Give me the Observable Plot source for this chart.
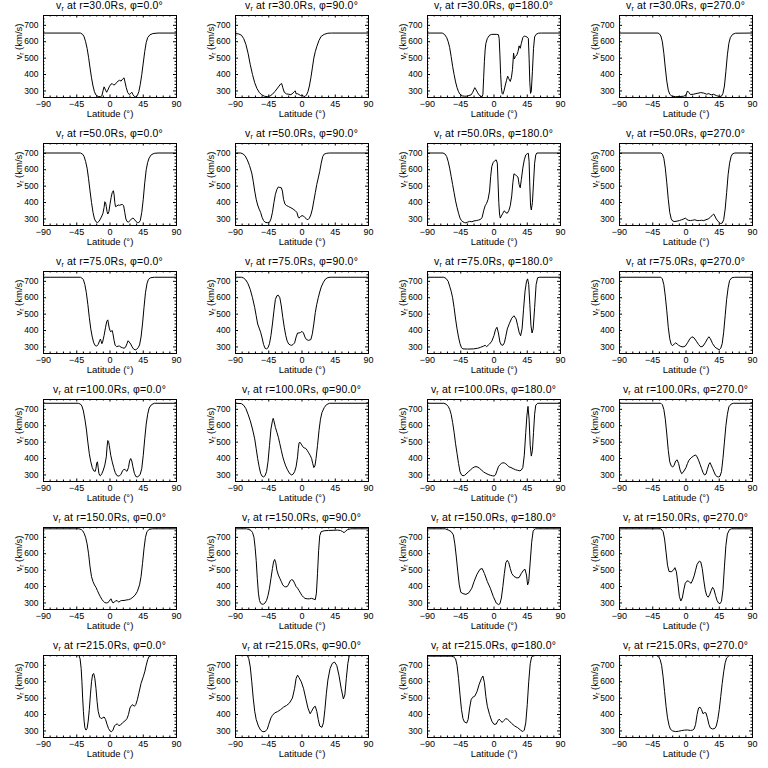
<!DOCTYPE html>
<html><head><meta charset="utf-8">
<script src="https://cdn.jsdelivr.net/npm/d3@7"></script>
<script src="https://cdn.jsdelivr.net/npm/@observablehq/plot@0.6"></script>
<style>
body{margin:0;background:#fff;}
#grid{position:relative;width:768px;height:768px;overflow:hidden;background:#fff;}
.cell{position:absolute;width:192px;height:128px;}
.cell svg{position:absolute;left:0;top:0;}
.title{position:absolute;top:0;left:33px;width:153px;text-align:center;font-family:"Liberation Sans",sans-serif;font-size:10.5px;letter-spacing:0.2px;line-height:11px;white-space:nowrap;z-index:2;color:#000;}
.title sub{font-size:7px;line-height:0;vertical-align:-2px;}
</style>
</head><body>
<div id="grid"></div>
<script>
// ---- axes / layout data ----
const rows = [30, 50, 75, 100, 150, 215];
const phis = [0, 90, 180, 270];
const xTicks = [-90, -45, 0, 45, 90];
const yTicks = [300, 400, 500, 600, 700];
const xDomain = [-90, 90];
const yDomain = [260, 760];

// ---- series: [latitude (deg), v_r (km/s)] ----
const r30_phi0 = [[-90,653],[-40,653],[-37,645],[-35,630],[-33,600],[-31,560],[-29,505],[-27,440],[-25,380],[-23,330],[-21,295],[-19,275],[-16,266],[-13,265],[-11,270],[-9.5,300],[-8,325],[-6,305],[-4.5,292],[-3,305],[-1,325],[1,340],[3,345],[5,336],[7,340],[9,352],[11,360],[13,365],[15,360],[17,372],[19,380],[20,360],[22,320],[24,290],[26,278],[28,285],[29.5,292],[31,278],[33,266],[35,263],[37,272],[39,295],[41,340],[43,400],[45,470],[47,540],[49,595],[51,625],[54,642],[58,650],[65,653],[90,653]];
const r30_phi90 = [[-90,650],[-86,648],[-82,640],[-79,620],[-76,585],[-73,530],[-70,460],[-67,400],[-64,350],[-61,315],[-58,292],[-55,278],[-51,268],[-47,265],[-43,270],[-40,280],[-37,295],[-34,312],[-31,330],[-29,342],[-27.5,345],[-26,320],[-24,292],[-21,282],[-18,280],[-15,277],[-12,288],[-10,298],[-9,300],[-8,282],[-6,283],[-4,278],[-2,272],[0,275],[2,268],[4,266],[6,275],[8,295],[10,330],[12,380],[14,440],[16,500],[18,540],[20,570],[23,608],[26,633],[30,645],[35,652],[40,653],[90,653]];
const r30_phi180 = [[-90,653],[-70,653],[-67,645],[-64,625],[-62,600],[-60,565],[-58,510],[-56,450],[-54,400],[-52,355],[-50,320],[-48,295],[-46,280],[-43,270],[-40,268],[-37,268],[-34,272],[-31,276],[-29,290],[-27,310],[-26,320],[-24,305],[-22,288],[-20,275],[-18,266],[-16,265],[-15,280],[-14,380],[-13,480],[-12,550],[-11,590],[-9,620],[-6,640],[-3,645],[0,645],[3,645],[6,643],[7,620],[8,520],[9,400],[10,320],[11,285],[12,280],[13.5,300],[15,330],[17,365],[18.5,390],[20,375],[22,358],[23.5,380],[25,430],[26.5,530],[27.5,495],[29,510],[31,520],[32.5,540],[34,575],[35.5,560],[37,590],[39,625],[41,635],[43,632],[45,628],[46.5,620],[47.5,500],[48.5,350],[49.5,285],[50.5,300],[52,420],[53.5,560],[55,630],[57,645],[60,652],[64,653],[90,653]];
const r30_phi270 = [[-90,653],[-38,653],[-36,648],[-34,635],[-32,600],[-30,530],[-28,440],[-26,360],[-24,305],[-22,280],[-19,268],[-14,265],[-8,266],[-3,268],[0,275],[2,300],[4,290],[6,278],[10,280],[15,285],[20,290],[24,287],[28,280],[31,284],[34,276],[37,280],[41,272],[45,266],[48,268],[50,285],[52,330],[54,420],[56,520],[58,590],[60,625],[63,645],[67,652],[90,653]];

const r50_phi0 = [[-90,702],[-40,702],[-37,695],[-35,680],[-33,650],[-31,610],[-29,545],[-27,470],[-25,400],[-23,340],[-21,300],[-19,283],[-17,278],[-15,285],[-13,300],[-11,318],[-9.5,335],[-8,370],[-7,405],[-6,400],[-5,375],[-4,345],[-3,330],[-1.5,345],[0,390],[1.5,430],[3,460],[4.5,472],[5.5,450],[6.5,400],[7.5,375],[9,378],[11,385],[13,383],[15,387],[17,388],[18.5,380],[20,340],[21.5,300],[23,285],[25,280],[27,290],[29,300],[31,305],[33,298],[35,285],[37,278],[39,278],[41,290],[43,340],[45,420],[47,520],[49,600],[51,645],[53,672],[56,692],[60,700],[65,702],[90,702]];
const r50_phi90 = [[-90,702],[-83,702],[-80,697],[-77,685],[-74,660],[-71,625],[-68,580],[-66,530],[-64,470],[-62,420],[-60,385],[-58,360],[-56,340],[-54,310],[-52,290],[-50,280],[-47,277],[-44,280],[-42,300],[-40,340],[-38,400],[-36,450],[-34,480],[-32,495],[-30,492],[-28,490],[-26.5,470],[-25,420],[-23,390],[-21,382],[-18,375],[-15,368],[-12,360],[-9,350],[-7,340],[-5,310],[-4,305],[-2,315],[0,320],[2,318],[4,308],[6,300],[8,295],[10,305],[12,325],[14,360],[16,410],[18,460],[20,510],[22,550],[24,590],[26,640],[28,680],[30,695],[33,700],[37,702],[90,702]];
const r50_phi180 = [[-90,702],[-69,702],[-66,695],[-64,680],[-62,650],[-60,610],[-58,560],[-56,510],[-54,460],[-52,410],[-50,370],[-48,335],[-46,305],[-44,290],[-42,282],[-40,278],[-38,276],[-36,280],[-33,285],[-30,283],[-27,288],[-24,290],[-21,293],[-18,298],[-16,310],[-14,350],[-12,380],[-10,395],[-8,420],[-6,470],[-4.5,560],[-3,620],[-1,645],[1,655],[3,660],[4.5,640],[5.5,520],[6.5,400],[7.5,330],[8.5,305],[10,318],[12,335],[14,350],[16,338],[18,335],[20,350],[22,380],[24,440],[25.5,520],[27,575],[29,570],[31,560],[32.5,555],[34,510],[35.5,490],[37,540],[39,610],[41,660],[43,690],[45,698],[46.5,700],[47.5,650],[48.5,500],[49.5,380],[50.5,355],[52,400],[53.5,520],[55,640],[56.5,690],[58,702],[90,702]];
const r50_phi270 = [[-90,702],[-34,702],[-32,695],[-30,670],[-28,610],[-26,520],[-24,420],[-22,340],[-20,300],[-18,287],[-15,284],[-12,287],[-9,290],[-6,295],[-3,300],[-1,305],[1,298],[3,292],[6,290],[9,292],[12,295],[15,290],[18,290],[21,292],[24,290],[27,295],[30,300],[33,310],[36,325],[37.5,330],[39,318],[41,300],[43,288],[45,278],[47,272],[49,275],[51,295],[53,360],[55,460],[57,570],[59,640],[61,680],[63,697],[66,702],[90,702]];

const r75_phi0 = [[-90,725],[-40,725],[-38,720],[-36,710],[-34,680],[-32,630],[-30,560],[-28,480],[-26,410],[-24,360],[-22,325],[-20,308],[-18,305],[-16,315],[-14,338],[-13,348],[-12,335],[-11,320],[-10,330],[-8,370],[-6,420],[-4.5,455],[-3,465],[-2,440],[-1,415],[0,400],[1,392],[2,398],[3,400],[4,380],[5.5,340],[7,310],[9,302],[11,305],[13,305],[15,298],[17,295],[19,292],[21,298],[23,320],[24.5,338],[26,330],[28,318],[30,300],[32,287],[34,282],[36,285],[38,295],[40,312],[42,360],[44,440],[46,540],[48,630],[50,685],[52,712],[55,722],[60,725],[90,725]];
const r75_phi90 = [[-90,725],[-82,725],[-79,720],[-76,708],[-73,685],[-70,650],[-67,600],[-64,540],[-62,490],[-60,440],[-58,415],[-56,390],[-54,355],[-52,315],[-50,292],[-48,288],[-46,295],[-44,320],[-42,370],[-40,440],[-38,520],[-36,590],[-34,612],[-32,615],[-30,600],[-28,550],[-26,480],[-24,420],[-22,370],[-20,335],[-18,318],[-16,312],[-14,310],[-12,315],[-10,325],[-8,360],[-6,385],[-4,385],[-2,388],[0,395],[2,385],[4,360],[6,345],[9,340],[12,345],[14,380],[16,440],[18,510],[20,560],[22,600],[24,635],[26,665],[29,695],[32,715],[35,723],[38,725],[90,725]];
const r75_phi180 = [[-90,725],[-68,725],[-65,718],[-62,700],[-60,670],[-58,640],[-56,600],[-54,540],[-52,470],[-50,410],[-48,360],[-46,320],[-44,295],[-42,288],[-36,287],[-28,288],[-22,292],[-18,298],[-14,305],[-12,310],[-10,302],[-8,310],[-6,318],[-3,335],[0,370],[2,405],[4,420],[6,385],[8,330],[10,312],[12,310],[14,325],[16,365],[18,410],[21,445],[24,475],[27,490],[30,470],[32,430],[34,390],[36,368],[38,410],[40,530],[42,640],[44,700],[45.5,715],[47,680],[48.5,560],[50,430],[51.5,385],[53,410],[55,540],[57,680],[59,722],[62,725],[90,725]];
const r75_phi270 = [[-90,725],[-34,725],[-32,715],[-30,680],[-28,610],[-26,520],[-24,420],[-22,350],[-20,315],[-18,308],[-16,318],[-14,325],[-12,318],[-10,310],[-7,303],[-4,300],[-1,305],[2,325],[5,348],[8,362],[11,355],[14,335],[17,315],[20,300],[23,305],[26,325],[29,350],[31,362],[33,350],[36,320],[39,300],[42,290],[45,283],[47,292],[49,320],[51,390],[53,490],[55,590],[57,660],[59,705],[62,722],[66,725],[90,725]];

const r100_phi0 = [[-90,737],[-43,737],[-40,732],[-38,720],[-36,690],[-34,640],[-32,580],[-30,500],[-28,430],[-26,380],[-24,345],[-22,325],[-20,322],[-19,340],[-18,372],[-17,380],[-16,345],[-15,310],[-14,298],[-13,295],[-11,308],[-9,330],[-7,360],[-5,410],[-4,470],[-3,510],[-2,505],[-1,480],[0,450],[1,420],[3,380],[5,345],[7,315],[9,298],[11,293],[13,295],[15,305],[17,325],[19,335],[21,330],[23,322],[25,345],[26.5,385],[28,400],[29.5,385],[31,350],[33,310],[35,290],[37,288],[39,293],[41,305],[43,340],[45,420],[47,520],[49,610],[51,670],[53,708],[56,728],[60,737],[90,737]];
const r100_phi90 = [[-90,737],[-82,735],[-79,725],[-76,705],[-73,670],[-70,630],[-67,580],[-64,520],[-62,460],[-60,400],[-58,350],[-56,310],[-54,292],[-52,288],[-50,295],[-48,320],[-46,380],[-44,480],[-42,580],[-40,630],[-39,645],[-38,630],[-36,590],[-34,560],[-32,530],[-30,490],[-28,450],[-26,410],[-24,380],[-22,355],[-20,335],[-18,318],[-16,305],[-14,300],[-12,305],[-10,320],[-8,350],[-6,410],[-5,460],[-4,495],[-3,500],[-1,488],[1,472],[3,465],[5,462],[7,450],[9,435],[11,420],[13,400],[14.5,370],[16,345],[17.5,355],[19,400],[21,480],[23,570],[25,640],[27,680],[30,710],[33,728],[37,737],[90,737]];
const r100_phi180 = [[-90,737],[-68,737],[-65,732],[-62,718],[-60,700],[-58,670],[-56,620],[-54,560],[-52,490],[-50,430],[-48,370],[-46,320],[-44,300],[-42,295],[-40,297],[-38,305],[-35,318],[-32,330],[-29,342],[-26,350],[-23,350],[-20,342],[-17,330],[-14,318],[-11,310],[-8,303],[-5,298],[-2,295],[0,293],[2,300],[4,325],[6,350],[8,362],[10,370],[12,374],[14,373],[16,368],[18,360],[20,350],[23,345],[26,338],[29,332],[32,328],[35,325],[37,330],[39,345],[41,420],[43,560],[44.5,660],[46,718],[47.5,640],[49,480],[50.5,415],[52,450],[53.5,560],[55,670],[56.5,725],[59,737],[90,737]];
const r100_phi270 = [[-90,737],[-34,737],[-32,728],[-30,700],[-28,640],[-26,550],[-24,450],[-22,380],[-20,355],[-18,348],[-16,360],[-14,385],[-12,392],[-10,370],[-8,330],[-6,308],[-4,315],[-2,330],[0,345],[2,370],[4,390],[7,405],[10,415],[13,422],[15,410],[17,390],[19,365],[21,340],[23,315],[25,300],[27,305],[29,335],[31,365],[32.5,375],[34,360],[36,340],[38,318],[40,298],[42,290],[44,288],[46,292],[48,320],[50,400],[52,500],[54,600],[56,670],[58,715],[61,732],[64,737],[90,737]];

const r150_phi0 = [[-90,752],[-42,752],[-39,748],[-37,740],[-35,725],[-33,700],[-31,660],[-29,600],[-27,520],[-25,460],[-23,430],[-21,410],[-19,395],[-17,375],[-15,355],[-13,338],[-11,322],[-9,310],[-7,302],[-5,300],[-3,302],[-1,310],[0.5,322],[1.5,325],[2.5,312],[4,300],[6,305],[8,315],[10,312],[12,305],[14,312],[16,315],[19,315],[22,318],[25,320],[28,325],[31,335],[34,348],[37,370],[40,410],[42,460],[44,540],[46,630],[48,700],[50,735],[53,748],[57,752],[90,752]];
const r150_phi90 = [[-90,752],[-75,752],[-72,748],[-69,742],[-67,730],[-65,700],[-63.5,640],[-62,560],[-60.5,450],[-59,360],[-57.5,315],[-56,298],[-54,292],[-52,293],[-50,300],[-48,315],[-46,345],[-44,390],[-42,450],[-40,510],[-38.5,550],[-37,565],[-35.5,545],[-34,500],[-32,470],[-30,450],[-28,430],[-26,410],[-24,400],[-22,398],[-20,400],[-18,415],[-16,435],[-14,442],[-12,438],[-10,420],[-8,400],[-6,390],[-4,375],[-2,360],[0,345],[2,335],[4,328],[7,325],[10,325],[13,328],[16,323],[18,320],[19.5,360],[21,480],[22.5,620],[24,710],[26,735],[30,740],[36,742],[42,743],[48,744],[52,742],[55,735],[57,728],[59,738],[62,748],[66,752],[90,752]];
const r150_phi180 = [[-90,752],[-66,752],[-62,745],[-58,735],[-55,715],[-53,660],[-51,580],[-49,490],[-47,410],[-45,365],[-42,357],[-38,352],[-34,362],[-30,390],[-27,430],[-23,475],[-19,505],[-16,510],[-13,480],[-9,430],[-5,390],[-1,340],[3,300],[6,290],[8,295],[10,330],[12,400],[14,480],[16,545],[18,560],[20,545],[22,510],[24,480],[27,462],[31,452],[34,455],[37,480],[40,500],[42,505],[44,470],[45.5,410],[47,430],[49,550],[51,670],[53,740],[56,752],[90,752]];
const r150_phi270 = [[-90,752],[-34,752],[-31,735],[-29,690],[-27,610],[-25,530],[-23,492],[-20,490],[-17,500],[-15,515],[-13,490],[-11,420],[-9,340],[-7,312],[-5,330],[-3,380],[-1,420],[1,432],[3,435],[5,425],[7,420],[9,440],[11,465],[13,500],[15,535],[18,555],[20,550],[22,510],[24,440],[26,380],[28,345],[30,335],[32,350],[34,375],[36,395],[38,380],[40,345],[42,315],[44,300],[46,295],[48,310],[50,380],[52,520],[54,650],[56,720],[59,748],[62,752],[90,752]];

const r215_phi0 = [[-90,760],[-42,760],[-40.5,740],[-39,680],[-38,600],[-37,500],[-36,420],[-35,360],[-34,320],[-32.5,305],[-31,315],[-29.5,360],[-28,430],[-26.5,520],[-25,600],[-23.5,645],[-22,650],[-20.5,620],[-19,560],[-17.5,480],[-16,420],[-14,385],[-12,375],[-10,380],[-8,385],[-6,370],[-4,340],[-2,315],[0,300],[2,295],[4,305],[6,330],[8,340],[10,342],[12,333],[14,335],[17,350],[20,360],[23,375],[25,400],[27,440],[29,455],[31,460],[33,450],[35,462],[37,490],[39,530],[42,590],[45,630],[47,660],[49,700],[51,735],[53,755],[56,760],[90,760]];
const r215_phi90 = [[-90,760],[-74,760],[-72,740],[-70,690],[-68,600],[-66,500],[-64,420],[-62,370],[-59,330],[-56,305],[-53,295],[-50,297],[-47,310],[-45,340],[-42,380],[-40,395],[-37,410],[-33,418],[-29,430],[-25,445],[-21,455],[-17,470],[-13,500],[-10,560],[-8,620],[-6,640],[-4,625],[-1,600],[2,560],[5,500],[8,440],[11,405],[13,420],[16,445],[18,450],[20,420],[22,370],[24,330],[27,322],[29,350],[31,430],[33,530],[35,610],[38,680],[41,712],[44,720],[47,700],[50,640],[53,560],[56,495],[58,520],[60,620],[62,710],[64,760],[90,760]];
const r215_phi180 = [[-90,756],[-58,756],[-55,752],[-52,740],[-50,700],[-48,620],[-46,520],[-44,430],[-42,375],[-40,355],[-37,348],[-35,370],[-33,440],[-31,490],[-29,505],[-26,512],[-23,540],[-20,585],[-17,620],[-15,635],[-13,595],[-11,510],[-9,450],[-6,400],[-3,360],[0,340],[3,342],[5,360],[7,372],[9,362],[11,352],[13,362],[16,375],[18,372],[21,360],[24,345],[28,330],[32,320],[36,305],[39,296],[41,305],[43,350],[45,460],[47,600],[49,710],[51,752],[54,760],[90,760]];
const r215_phi270 = [[-90,760],[-40,760],[-37,752],[-35,735],[-33,700],[-31,630],[-29,540],[-27,450],[-25,380],[-23,335],[-21,310],[-18,300],[-14,296],[-10,298],[-6,302],[-2,305],[2,306],[6,303],[9,305],[11,312],[13,340],[15,400],[17,440],[19,445],[21,430],[23,405],[25,412],[27,410],[29,380],[31,340],[33,318],[36,312],[39,315],[41,330],[43,370],[45,430],[47,510],[49,590],[51,660],[53,715],[55,745],[58,758],[60,760],[90,760]];

const panels = [
  [r30_phi0, r30_phi90, r30_phi180, r30_phi270],
  [r50_phi0, r50_phi90, r50_phi180, r50_phi270],
  [r75_phi0, r75_phi90, r75_phi180, r75_phi270],
  [r100_phi0, r100_phi90, r100_phi180, r100_phi270],
  [r150_phi0, r150_phi90, r150_phi180, r150_phi270],
  [r215_phi0, r215_phi90, r215_phi180, r215_phi270]
];

// minor tick positions (axis decoration)
const xMinor = d3.range(-90, 91, 9).filter(v => !xTicks.includes(v));
const yMinor = d3.range(280, 761, 20).filter(v => !yTicks.includes(v));

const W = 192, H = 128, ML = 43, MR = 16, MT = 15, MB = 31;
const IW = W - ML - MR, IH = H - MT - MB;
const FONT = "'Liberation Sans', Arial, sans-serif";
const grid = document.getElementById("grid");

rows.forEach((r, i) => phis.forEach((phi, j) => {
  const cell = document.createElement("div");
  cell.className = "cell";
  cell.style.left = (j * W) + "px";
  cell.style.top = (i * H) + "px";

  const svg = Plot.plot({
    width: W, height: H,
    marginLeft: ML, marginRight: MR, marginTop: MT, marginBottom: MB,
    style: {fontFamily: FONT, background: "white", color: "black", overflow: "visible"},
    x: {domain: xDomain},
    y: {domain: yDomain},
    marks: [
      Plot.ruleX(xTicks, {insetTop: IH - 2.5, stroke: "black"}),
      Plot.ruleX(xTicks, {insetBottom: IH - 2.5, stroke: "black"}),
      Plot.ruleX(xMinor, {insetTop: IH - 1.5, stroke: "black"}),
      Plot.ruleX(xMinor, {insetBottom: IH - 1.5, stroke: "black"}),
      Plot.ruleY(yTicks, {insetRight: IW - 3, stroke: "black"}),
      Plot.ruleY(yTicks, {insetLeft: IW - 3, stroke: "black"}),
      Plot.ruleY(yMinor, {insetRight: IW - 1.5, stroke: "black"}),
      Plot.ruleY(yMinor, {insetLeft: IW - 1.5, stroke: "black"}),
      Plot.line(panels[i][j], {x: d => d[0], y: d => d[1], stroke: "black", strokeWidth: 1}),
      Plot.frame({stroke: "black", strokeWidth: 1}),
      Plot.axisX(xTicks, {tickSize: 0, tickPadding: 3, fontSize: 9, label: null}),
      Plot.axisY(yTicks, {tickSize: 0, tickPadding: 5, fontSize: 8.5, label: null}),
      Plot.text(["Latitude (°)"], {frameAnchor: "bottom", dy: 19, fontSize: 9.5, fill: "black"}),
      Plot.text(["YLABEL"], {frameAnchor: "left", dx: -25, dy: 3, rotate: -90, fontSize: 9.5, fill: "black"})
    ]
  });

  // y-axis label with subscript r
  svg.querySelectorAll("text").forEach(t => {
    if (t.textContent === "YLABEL") {
      t.textContent = "";
      const NS = "http://www.w3.org/2000/svg";
      const a = document.createElementNS(NS, "tspan"); a.textContent = "v";
      const b = document.createElementNS(NS, "tspan"); b.textContent = "r";
      b.setAttribute("dy", "2"); b.setAttribute("font-size", "6.5");
      const c = document.createElementNS(NS, "tspan"); c.textContent = " (km/s)";
      c.setAttribute("dy", "-2");
      t.append(a, b, c);
    }
  });

  const title = document.createElement("div");
  title.className = "title";
  title.innerHTML = `v<sub>r</sub> at r=${r.toFixed(1)}Rs, φ=${phi.toFixed(1)}°`;

  cell.appendChild(svg);
  cell.appendChild(title);
  grid.appendChild(cell);
}));
</script>
</body></html>
